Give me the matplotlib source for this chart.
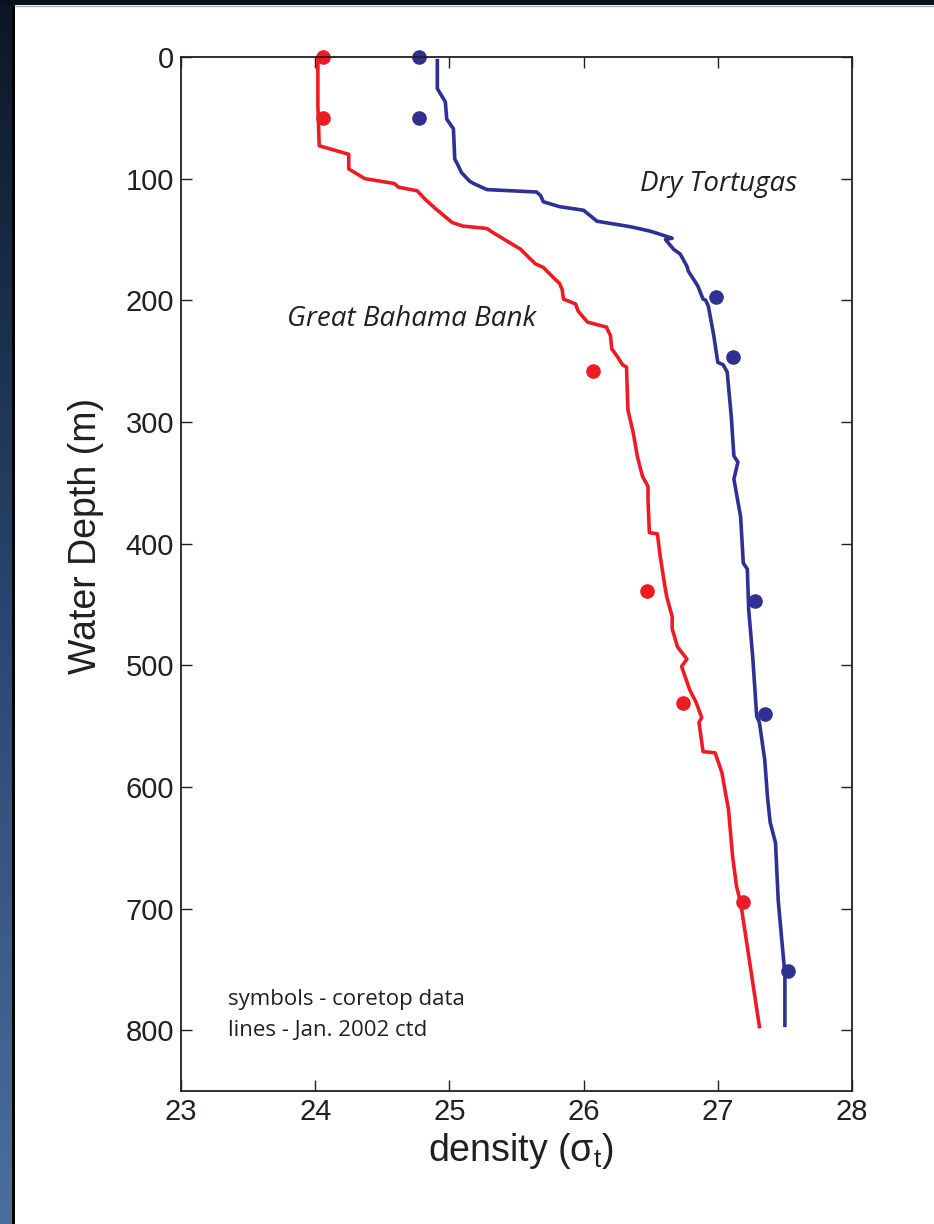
import matplotlib
matplotlib.use("Agg")
import matplotlib.pyplot as plt
import numpy as np

plt.rcParams["mathtext.fontset"] = "custom"
plt.rcParams["mathtext.rm"] = "Liberation Sans"
plt.rcParams["mathtext.it"] = "Liberation Sans"

# CTD profile, Great Bahama Bank (density sigma-t, depth m)
gbb_ctd_density = [24.02, 24.02, 24.03, 24.25, 24.25, 24.37, 24.59, 24.62, 24.76, 24.82, 24.90,
                   25.02, 25.10, 25.28, 25.32, 25.41, 25.53, 25.64, 25.70, 25.79, 25.82, 25.84,
                   25.85, 25.94, 25.96, 26.03, 26.17, 26.20, 26.21, 26.25, 26.29, 26.32, 26.33,
                   26.37, 26.40, 26.42, 26.44, 26.48, 26.48, 26.49, 26.55, 26.57, 26.61, 26.62,
                   26.66, 26.66, 26.70, 26.77, 26.73, 26.79, 26.84, 26.88, 26.86, 26.89, 26.98,
                   27.03, 27.08, 27.11, 27.14, 27.17, 27.31]
gbb_ctd_depth = [0, 40, 73, 80, 92, 100, 104, 107, 110, 117, 125,
                 136, 139, 141, 144, 150, 158, 170, 173, 183, 186, 191,
                 199, 203, 209, 218, 222, 229, 240, 246, 253, 255, 290,
                 309, 328, 337, 345, 353, 364, 391, 392, 410, 438, 444,
                 460, 470, 485, 495, 501, 520, 531, 543, 547, 571, 572,
                 588, 619, 657, 682, 695, 797]

# CTD profile, Dry Tortugas
dt_ctd_density = [24.91, 24.91, 24.97, 24.98, 25.03, 25.04, 25.06, 25.09, 25.15, 25.18, 25.28,
                  25.65, 25.68, 25.70, 25.82, 26.00, 26.10, 26.32, 26.37, 26.49, 26.55, 26.66,
                  26.61, 26.67, 26.72, 26.77, 26.78, 26.85, 26.89, 26.91, 26.93, 26.97, 27.00,
                  27.04, 27.07, 27.10, 27.12, 27.15, 27.12, 27.17, 27.19, 27.22, 27.23, 27.26,
                  27.29, 27.31, 27.35, 27.37, 27.39, 27.43, 27.45, 27.49, 27.50, 27.50]
dt_ctd_depth = [3, 26, 37, 51, 59, 84, 88, 95, 102, 104, 109,
                111, 114, 119, 123, 126, 135, 139, 140, 143, 145, 149,
                150, 158, 162, 172, 176, 188, 199, 200, 205, 229, 251,
                253, 259, 295, 328, 333, 347, 378, 416, 421, 454, 493,
                542, 547, 578, 608, 629, 646, 693, 742, 753, 796]

# coretop samples
gbb_core_density = [24.06, 24.06, 26.07, 26.47, 26.74, 27.19]
gbb_core_depth = [0, 50, 258, 439, 531, 695]
dt_core_density = [24.77, 24.77, 26.99, 27.11, 27.28, 27.35, 27.52]
dt_core_depth = [0, 50, 197, 247, 447, 540, 751]

red = "#ED1C24"
blue = "#2E3192"
ink = "#231f20"

fig = plt.figure(figsize=(9.34, 12.24), dpi=100)
fig.patch.set_facecolor("white")

# dark slide border: gradient strip on the left, dark band on top
strip = fig.add_axes([0, 0, 12 / 934, 1])
grad = np.linspace(0, 1, 256).reshape(-1, 1)
cmap = matplotlib.colors.LinearSegmentedColormap.from_list("slide", ["#0b1726", "#2a466e", "#4a6f9f"])
strip.imshow(grad, aspect="auto", cmap=cmap, origin="upper")
strip.axis("off")
edge = fig.add_axes([12 / 934, 0, 3 / 934, 1])
edge.axis("off")
edge.add_patch(plt.Rectangle((0, 0), 1, 1, color="black", transform=edge.transAxes))
top = fig.add_axes([0, 1 - 5 / 1224, 1, 5 / 1224])
top.add_patch(plt.Rectangle((0, 0), 1, 1, color="#0a1220", transform=top.transAxes))
top.axis("off")
fig.add_artist(plt.Line2D([15 / 934, 1], [1 - 5.5 / 1224, 1 - 5.5 / 1224], color="#b0b0b0", lw=1))

ax = fig.add_axes([181 / 934, 1 - 1091 / 1224, 671 / 934, 1034 / 1224])
ax.plot(gbb_ctd_density, gbb_ctd_depth, color=red, lw=2.6, solid_joinstyle="round")
ax.plot(dt_ctd_density, dt_ctd_depth, color=blue, lw=2.6, solid_joinstyle="round")
ax.plot(gbb_core_density, gbb_core_depth, "o", color=red, ms=9.5, clip_on=False)
ax.plot(dt_core_density, dt_core_depth, "o", color=blue, ms=9.5, clip_on=False)

ax.set_xlim(23, 28)
ax.set_ylim(850, 0)
ax.set_xticks([23, 24, 25, 26, 27, 28])
ax.set_yticks([0, 100, 200, 300, 400, 500, 600, 700, 800])
ax.tick_params(direction="in", length=8, width=1, top=True, right=True,
               labelsize=21, colors=ink, pad=5)
for lab in ax.get_xticklabels() + ax.get_yticklabels():
    lab.set_family("Liberation Sans")
for s in ax.spines.values():
    s.set_linewidth(1.3)
    s.set_color(ink)

ax.set_ylabel("Water Depth (m)", fontsize=27, family="Liberation Sans", color=ink)
ax.yaxis.set_label_coords(-0.115, 0.537)
ax.set_xlabel(r"density ($\mathregular{\sigma_t}$)", fontsize=27, family="Liberation Sans",
              color=ink)
ax.xaxis.set_label_coords(0.507, -0.039)

ax.text(26.42, 104, "Dry Tortugas", fontsize=20, style="italic", family="Open Sans",
        color=ink, va="center")
ax.text(23.79, 215, "Great Bahama Bank", fontsize=20, style="italic", family="Open Sans",
        color=ink, va="center")
ax.text(23.35, 775, "symbols - coretop data", fontsize=16, family="Open Sans",
        color=ink, va="center")
ax.text(23.35, 800, "lines - Jan. 2002 ctd", fontsize=16, family="Open Sans",
        color=ink, va="center")

fig.savefig("out.png", dpi=100)
